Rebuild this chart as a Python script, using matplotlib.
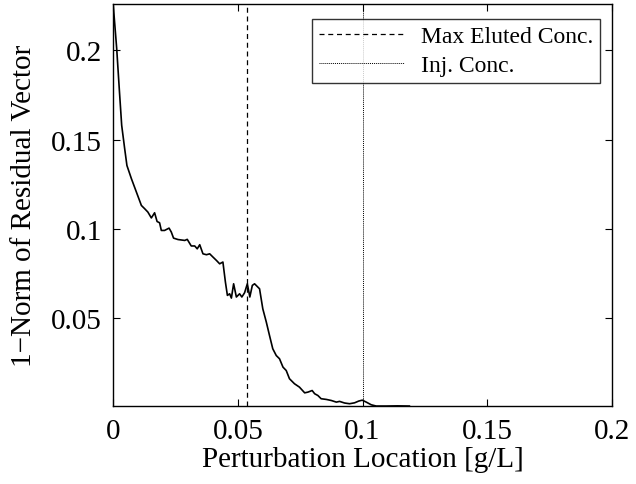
import matplotlib
matplotlib.use("Agg")
import matplotlib.pyplot as plt

# ========== data ==========
pert_loc = [0.0, 0.0014, 0.0025, 0.0034, 0.0046, 0.0055, 0.0073, 0.0093, 0.0113,
            0.0126, 0.0139, 0.0153, 0.0166, 0.0176, 0.0186, 0.0193, 0.0206, 0.0224,
            0.0233, 0.0242, 0.0260, 0.0287, 0.0297, 0.0313, 0.0327, 0.0337, 0.0347,
            0.0360, 0.0374, 0.0387, 0.0400, 0.0414, 0.0427, 0.0440, 0.0450, 0.0458,
            0.0467, 0.0474, 0.0483, 0.0494, 0.0507, 0.0516, 0.0527, 0.0538, 0.0548,
            0.0558, 0.0567, 0.0587, 0.0600, 0.0614, 0.0627, 0.0640, 0.0654, 0.0667,
            0.0681, 0.0694, 0.0707, 0.0727, 0.0747, 0.0768, 0.0781, 0.0798, 0.0808,
            0.0821, 0.0834, 0.0855, 0.0875, 0.0895, 0.0908, 0.0928, 0.0948, 0.0968,
            0.0985, 0.0999, 0.1015, 0.1035, 0.1055, 0.1095, 0.1140, 0.1188]
res_norm = [0.2256, 0.2010, 0.1770, 0.1580, 0.1449, 0.1355, 0.1281, 0.1206, 0.1131,
            0.1113, 0.1094, 0.1061, 0.1090, 0.1041, 0.1034, 0.0991, 0.0991, 0.1004,
            0.0982, 0.0948, 0.0940, 0.0935, 0.0941, 0.0904, 0.0904, 0.0888, 0.0911,
            0.0860, 0.0855, 0.0860, 0.0842, 0.0823, 0.0804, 0.0814, 0.0702, 0.0627,
            0.0636, 0.0612, 0.0692, 0.0618, 0.0636, 0.0618, 0.0642, 0.0692, 0.0618,
            0.0683, 0.0692, 0.0664, 0.0552, 0.0478, 0.0402, 0.0328, 0.0290, 0.0272,
            0.0225, 0.0206, 0.0160, 0.0132, 0.0113, 0.0081, 0.0085, 0.0094, 0.0076,
            0.0066, 0.0048, 0.0044, 0.0038, 0.0029, 0.0033, 0.0024, 0.0020, 0.0025,
            0.0035, 0.0040, 0.0029, 0.0014, 0.0007, 0.0007, 0.0008, 0.0007]
max_eluted = 0.0538
inj_conc = 0.1
x_ticks = [0, 0.05, 0.1, 0.15, 0.2]
x_labels = ["0", "0.05", "0.1", "0.15", "0.2"]
y_ticks = [0.05, 0.1, 0.15, 0.2]
y_labels = ["0.05", "0.1", "0.15", "0.2"]

plt.rcParams["font.family"] = ["Liberation Serif", "DejaVu Serif"]

fig = plt.figure(figsize=(6.36, 4.85), dpi=100)
ax = fig.add_axes([0.178, 0.16, 0.784, 0.829])

ax.plot(pert_loc, res_norm, color="black", lw=1.2)
ax.axvline(max_eluted, color="black", ls=(0, (4, 3)), lw=0.9, label="Max Eluted Conc.")
ax.axvline(inj_conc, color="black", ls=(0, (1, 1)), lw=0.7, label="Inj. Conc.")

ax.set_xlim(0, 0.2)
ax.set_ylim(0.0005, 0.2258)
ax.set_xticks(x_ticks)
ax.set_xticklabels(x_labels)
ax.set_yticks(y_ticks)
ax.set_yticklabels(y_labels)
ax.tick_params(direction="in", top=True, right=True, labelsize=21, length=5, width=0.8, pad=8)
for s in ax.spines.values():
    s.set_linewidth(1.0)

ax.set_xlabel("Perturbation Location [g/L]", fontsize=21, labelpad=2)
ax.set_ylabel("1\u2212Norm of Residual Vector", fontsize=21, labelpad=10)

# legend box sits a bit below the top-right corner, like the original
leg = ax.legend(loc="upper right", fontsize=17, frameon=True, fancybox=False,
                edgecolor="black", handlelength=3.6, handletextpad=0.7,
                borderpad=0.3, labelspacing=0.3, borderaxespad=0,
                bbox_to_anchor=(0.976, 0.964))
leg.get_frame().set_linewidth(1.0)

fig.savefig("out.png", dpi=100)
